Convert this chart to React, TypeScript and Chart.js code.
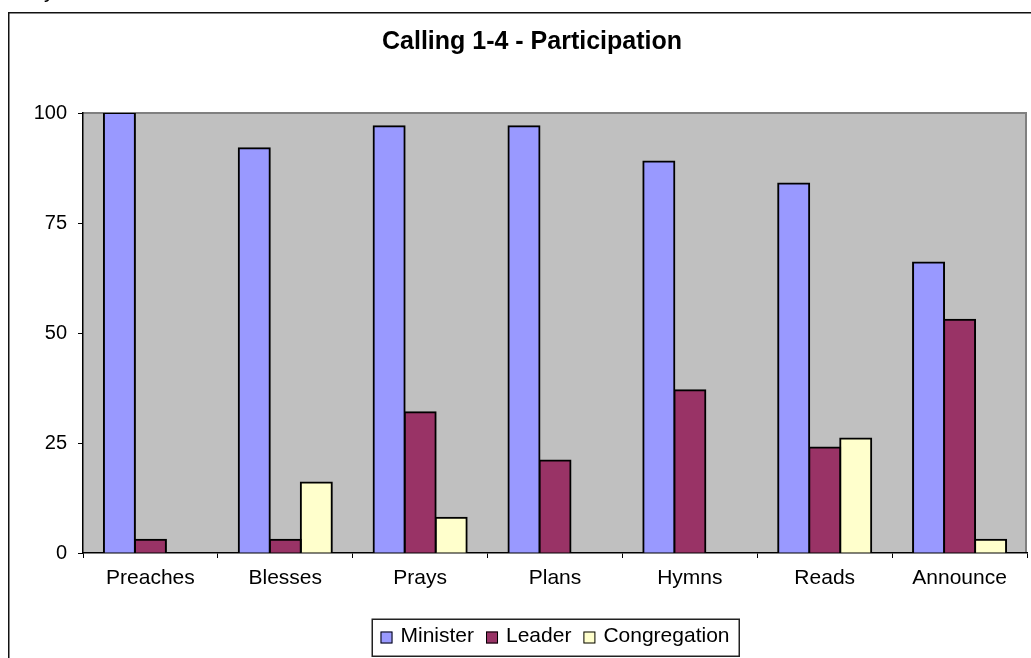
import { useEffect, useRef } from 'react';
import { Chart, registerables } from 'chart.js';

Chart.register(...registerables);

const chartTitle = 'Calling 1-4 - Participation';
const categories = ['Preaches', 'Blesses', 'Prays', 'Plans', 'Hymns', 'Reads', 'Announce'];
const minister = [100, 92, 97, 97, 89, 84, 66];
const leader = [3, 3, 32, 21, 37, 24, 53];
const congregation = [0, 16, 8, 0, 0, 26, 3];
const yTicks = [0, 25, 50, 75, 100];
const seriesNames = ['Minister', 'Leader', 'Congregation'];
const seriesColors = ['#9999FF', '#993366', '#FFFFCC'];

const FONT = '"Liberation Sans", Arial, Helvetica, sans-serif';

const noZero = (arr: number[]) => arr.map((v) => (v === 0 ? null : v));

const decorPlugin = {
  id: 'decor',
  beforeDraw(chart: any) {
    const { ctx, chartArea: a } = chart;
    ctx.save();
    ctx.fillStyle = '#ffffff';
    ctx.fillRect(0, 0, chart.width, chart.height);
    // clipped text above the frame
    ctx.fillStyle = '#000';
    ctx.font = `21px ${FONT}`;
    ctx.textAlign = 'left';
    ctx.textBaseline = 'alphabetic';
    ctx.fillText('y', 44, -2);
    // outer frame
    ctx.strokeStyle = '#111';
    ctx.lineWidth = 1.5;
    ctx.beginPath();
    ctx.moveTo(8.75, chart.height + 5);
    ctx.lineTo(8.75, 12.75);
    ctx.lineTo(chart.width + 5, 12.75);
    ctx.stroke();
    // plot area
    ctx.fillStyle = '#C0C0C0';
    ctx.fillRect(a.left, a.top, a.right - a.left, a.bottom - a.top);
    ctx.strokeStyle = '#808080';
    ctx.lineWidth = 2;
    ctx.beginPath();
    ctx.moveTo(a.left, a.top);
    ctx.lineTo(a.right - 1, a.top);
    ctx.lineTo(a.right - 1, a.bottom);
    ctx.stroke();
    // title
    ctx.fillStyle = '#000';
    ctx.font = `bold 25px ${FONT}`;
    ctx.textAlign = 'center';
    ctx.fillText(chartTitle, 532, 49);
    ctx.restore();
  },
  afterDraw(chart: any) {
    const { ctx, chartArea: a } = chart;
    const ds = chart.data.datasets;
    ctx.save();
    ctx.font = `21px ${FONT}`;
    const box = 12;
    const gap = 8;
    const itemGap = 12;
    const widths = ds.map((d: any) => ctx.measureText(d.label).width);
    let total = 0;
    widths.forEach((w: number, i: number) => {
      total += box + gap + w + (i < widths.length - 1 ? itemGap : 0);
    });
    const cx = (a.left + a.right) / 2;
    let x = cx - total / 2;
    const top = a.bottom + 66;
    const bottom = top + 37;
    const midY = (top + bottom) / 2 - 1;
    ctx.strokeStyle = '#222';
    ctx.lineWidth = 1.5;
    ctx.strokeRect(Math.round(x - 9) + 0.25, top + 0.25, Math.round(total + 18), bottom - top);
    ctx.textAlign = 'left';
    ctx.textBaseline = 'middle';
    ds.forEach((d: any, i: number) => {
      ctx.fillStyle = d.backgroundColor;
      ctx.fillRect(x, midY - box / 2 + 1, box, box);
      ctx.strokeStyle = '#000';
      ctx.lineWidth = 1;
      ctx.strokeRect(x + 0.5, midY - box / 2 + 1.5, box - 1, box - 1);
      ctx.fillStyle = '#000';
      ctx.fillText(d.label, x + box + gap, midY);
      x += box + gap + widths[i] + itemGap;
    });
    ctx.restore();
  },
};

export default function App() {
  const ref = useRef<HTMLCanvasElement>(null);

  useEffect(() => {
    const canvas = ref.current;
    if (!canvas) return;
    const seriesValues = [minister, leader, congregation];
    const chart = new Chart(canvas, {
      type: 'bar',
      data: {
        labels: categories,
        datasets: seriesValues.map((vals, i) => ({
          label: seriesNames[i],
          data: noZero(vals),
          backgroundColor: seriesColors[i],
          borderColor: '#000000',
          borderWidth: 2,
          inflateAmount: 1,
          borderSkipped: 'start',
          categoryPercentage: 0.69,
          barPercentage: 1.0,
        })),
      },
      options: {
        responsive: false,
        animation: false,
        devicePixelRatio: 1,
        layout: { padding: { left: 8, top: 113, right: 4, bottom: 67 } },
        plugins: {
          legend: { display: false },
          title: { display: false },
          tooltip: { enabled: false },
        },
        scales: {
          x: {
            afterFit: (s: any) => {
              s.height = 38;
            },
            grid: {
              display: true,
              drawOnChartArea: false,
              drawTicks: true,
              tickLength: 5,
              color: '#000',
              lineWidth: 1,
              offset: true,
            },
            border: { display: true, color: '#000', width: 1.5 },
            ticks: {
              color: '#000',
              padding: 8,
              font: { family: FONT, size: 21 },
              maxRotation: 0,
              autoSkip: false,
            },
          },
          y: {
            min: yTicks[0],
            max: yTicks[yTicks.length - 1],
            afterFit: (s: any) => {
              s.width = 75;
            },
            afterBuildTicks: (s: any) => {
              s.ticks = yTicks.map((v) => ({ value: v }));
            },
            grid: {
              display: true,
              drawOnChartArea: false,
              drawTicks: true,
              tickLength: 5,
              color: '#000',
              lineWidth: 1,
            },
            border: { display: true, color: '#000', width: 1.5 },
            ticks: {
              color: '#000',
              padding: 11,
              font: { family: FONT, size: 20 },
            },
          },
        },
      },
      plugins: [decorPlugin],
    });
    return () => chart.destroy();
  }, []);

  return (
    <canvas
      ref={ref}
      width={1031}
      height={658}
      style={{ position: 'absolute', left: 0, top: 0, display: 'block' }}
    />
  );
}
